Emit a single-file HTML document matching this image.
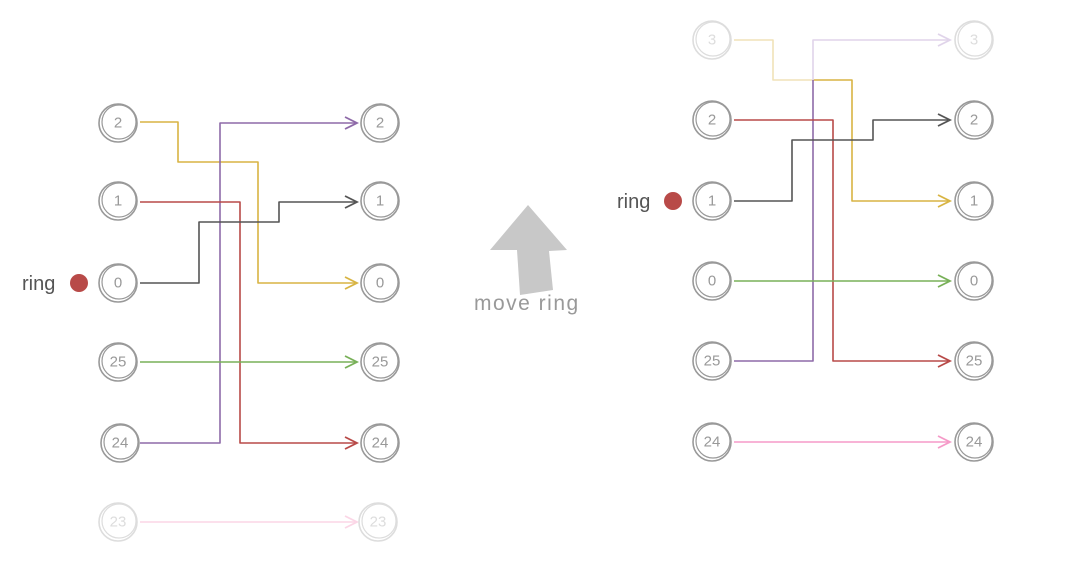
<!DOCTYPE html>
<html><head><style>body{margin:0;background:#fff}svg{display:block}</style></head><body>
<svg width="1086" height="566" viewBox="0 0 1086 566" xmlns="http://www.w3.org/2000/svg" font-family="Liberation Sans, sans-serif">
<defs>
<g id="n"><circle r="19" fill="none" stroke-width="1.6"/><circle r="17" fill="none" stroke-width="1.2" transform="translate(1,-1)"/></g>
</defs>
<g fill="none" stroke-width="1.6" stroke-linejoin="round">
<polyline points="140,122 178,122 178,162 258,162 258,283 355,283" stroke="#d8b443"/>
<polyline points="140,443 220,443 220,123 355,123" stroke="#8e6aa8"/>
<polyline points="140,202 240,202 240,443 355,443" stroke="#b84a48"/>
<polyline points="140,283 199,283 199,222 279,222 279,202 355,202" stroke="#555"/>
<line x1="140" y1="362" x2="355" y2="362" stroke="#78b058"/>
<line x1="140" y1="522" x2="355" y2="522" stroke="#fbd6e6"/>
<polyline points="734,40 773,40 773,80 813,80" stroke="#f0e2b8"/>
<polyline points="813,80 852,80 852,201 948,201" stroke="#d8b443"/>
<polyline points="813,80 813,40 948,40" stroke="#e0d4ea"/>
<polyline points="734,361 813,361 813,80" stroke="#8e6aa8"/>
<polyline points="734,120 833,120 833,361 948,361" stroke="#b84a48"/>
<polyline points="734,201 792,201 792,140 873,140 873,120 948,120" stroke="#555"/>
<line x1="734" y1="281" x2="948" y2="281" stroke="#78b058"/>
<line x1="734" y1="442" x2="948" y2="442" stroke="#f59ac8"/>
</g>
<g fill="none" stroke-width="1.8">
<path d="M345,117 L357,123 L345,129" stroke="#8e6aa8"/>
<path d="M345,196 L357,202 L345,208" stroke="#555"/>
<path d="M345,277 L357,283 L345,289" stroke="#d8b443"/>
<path d="M345,356 L357,362 L345,368" stroke="#78b058"/>
<path d="M345,437 L357,443 L345,449" stroke="#b84a48"/>
<path d="M345,516 L357,522 L345,528" stroke="#fbd6e6"/>
<path d="M938,34 L950,40 L938,46" stroke="#e0d4ea"/>
<path d="M938,114 L950,120 L938,126" stroke="#555"/>
<path d="M938,195 L950,201 L938,207" stroke="#d8b443"/>
<path d="M938,275 L950,281 L938,287" stroke="#78b058"/>
<path d="M938,355 L950,361 L938,367" stroke="#b84a48"/>
<path d="M938,436 L950,442 L938,448" stroke="#f59ac8"/>
</g>
<g stroke="#999" fill="#999" font-size="15" text-anchor="middle" dominant-baseline="central">
<g transform="translate(118,123)"><use href="#n"/><text stroke="none">2</text></g>
<g transform="translate(118,201)"><use href="#n"/><text stroke="none">1</text></g>
<g transform="translate(118,283)"><use href="#n"/><text stroke="none">0</text></g>
<g transform="translate(118,362)"><use href="#n"/><text stroke="none">25</text></g>
<g transform="translate(120,443)"><use href="#n"/><text stroke="none">24</text></g>
<g transform="translate(380,123)"><use href="#n"/><text stroke="none">2</text></g>
<g transform="translate(380,201)"><use href="#n"/><text stroke="none">1</text></g>
<g transform="translate(380,283)"><use href="#n"/><text stroke="none">0</text></g>
<g transform="translate(380,362)"><use href="#n"/><text stroke="none">25</text></g>
<g transform="translate(380,443)"><use href="#n"/><text stroke="none">24</text></g>
<g transform="translate(712,120)"><use href="#n"/><text stroke="none">2</text></g>
<g transform="translate(712,201)"><use href="#n"/><text stroke="none">1</text></g>
<g transform="translate(712,281)"><use href="#n"/><text stroke="none">0</text></g>
<g transform="translate(712,361)"><use href="#n"/><text stroke="none">25</text></g>
<g transform="translate(712,442)"><use href="#n"/><text stroke="none">24</text></g>
<g transform="translate(974,120)"><use href="#n"/><text stroke="none">2</text></g>
<g transform="translate(974,201)"><use href="#n"/><text stroke="none">1</text></g>
<g transform="translate(974,281)"><use href="#n"/><text stroke="none">0</text></g>
<g transform="translate(974,361)"><use href="#n"/><text stroke="none">25</text></g>
<g transform="translate(974,442)"><use href="#n"/><text stroke="none">24</text></g>
</g>
<g stroke="#ddd" fill="#ddd" font-size="15" text-anchor="middle" dominant-baseline="central">
<g transform="translate(118,522)"><use href="#n"/><text stroke="none">23</text></g>
<g transform="translate(378,522)"><use href="#n"/><text stroke="none">23</text></g>
<g transform="translate(712,40)"><use href="#n"/><text stroke="none">3</text></g>
<g transform="translate(974,40)"><use href="#n"/><text stroke="none">3</text></g>
</g>
<text x="22" y="290" font-size="20" fill="#555">ring</text>
<circle cx="79" cy="283" r="9" fill="#b84a48"/>
<text x="617" y="208" font-size="20" fill="#555">ring</text>
<circle cx="673" cy="201" r="9" fill="#b84a48"/>
<path d="M528,205 L567,250 L549,251 L553,290 L520,295 L517,250 L490,250 Z" fill="#c8c8c8"/>
<text x="474" y="310" font-size="21" letter-spacing="1.5" fill="#999">move ring</text>
</svg>
</body></html>
